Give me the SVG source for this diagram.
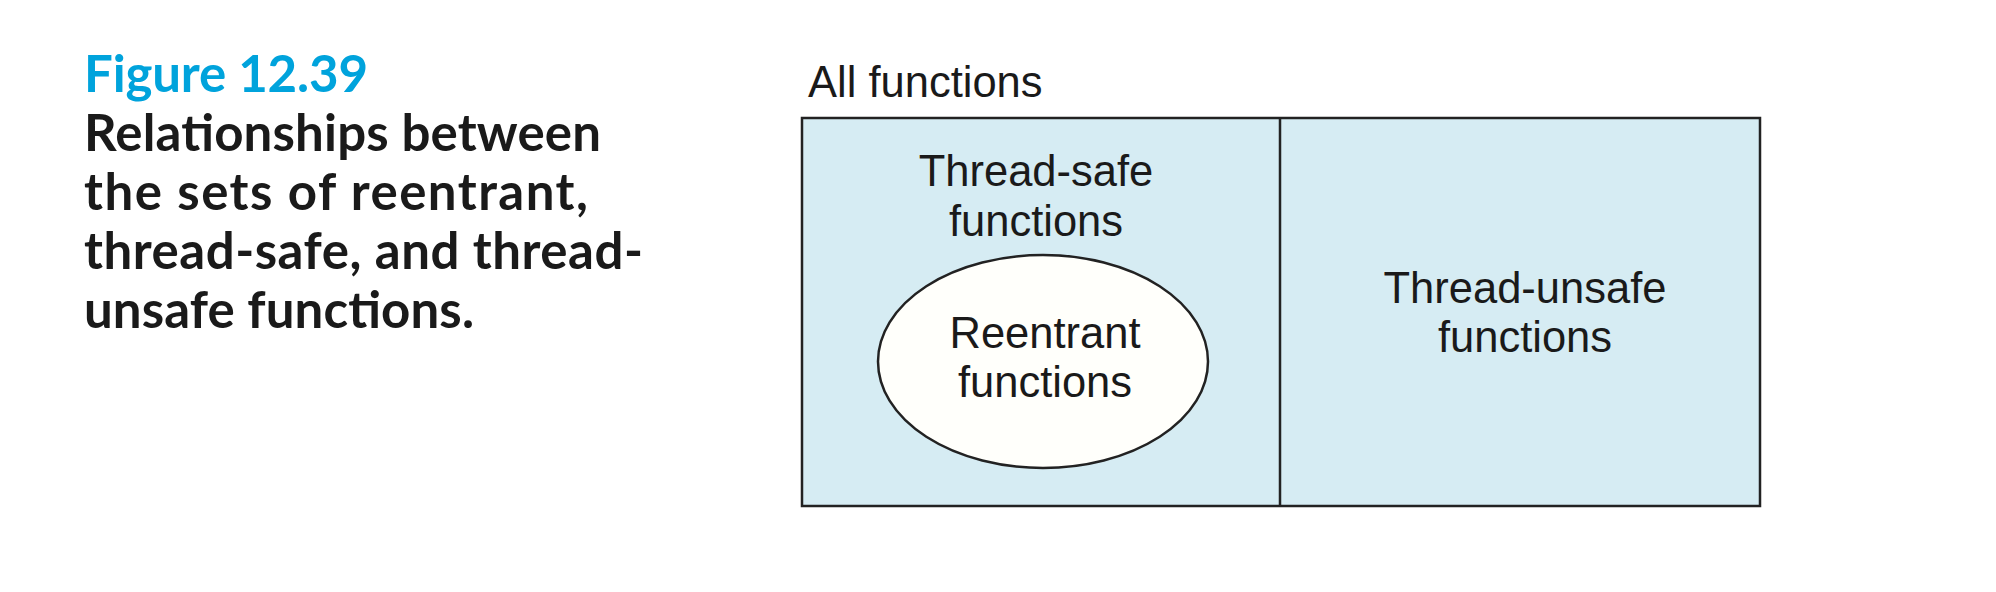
<svg xmlns="http://www.w3.org/2000/svg" width="1996" height="592" viewBox="0 0 1996 592">
<style>
.cap{font-family:Lato,"Open Sans","Noto Sans",sans-serif;font-weight:bold;font-size:51px;fill:#1a1a1a}
.fig{fill:#00a3dc}
.lbl{font-family:"Liberation Sans",Arial,sans-serif;font-size:43.5px;fill:#1a1a1a;text-anchor:middle}
.box{fill:#d6ecf3;stroke:#222;stroke-width:2.5}
</style>
<rect width="1996" height="592" fill="#fff"/>
<g id="caption">
<text class="cap fig" x="84" y="92" textLength="284">Figure 12.39</text>
<text class="cap" x="84" y="151" textLength="517">Relationships between</text>
<text class="cap" x="84" y="210" textLength="504">the sets of reentrant,</text>
<text class="cap" x="84" y="269" textLength="559">thread-safe, and thread-</text>
<text class="cap" x="84" y="328" textLength="390">unsafe functions.</text>
</g>
<g id="all-functions">
<text x="808" y="97" style="font-family:'Liberation Sans',Arial,sans-serif;font-size:43.5px;fill:#1a1a1a">All functions</text>
<rect class="box" x="802" y="118" width="958" height="388"/>
</g>
<g id="thread-safe">
<text class="lbl" x="1036" y="186">Thread-safe</text>
<text class="lbl" x="1036" y="236">functions</text>
</g>
<g id="thread-unsafe">
<text class="lbl" x="1525" y="303">Thread-unsafe</text>
<text class="lbl" x="1525" y="352">functions</text>
</g>
<g id="reentrant">
<ellipse cx="1043" cy="361.5" rx="165" ry="106.5" fill="#fffffb" stroke="#222" stroke-width="2.5"/>
<text class="lbl" x="1045" y="348">Reentrant</text>
<text class="lbl" x="1045" y="397">functions</text>
</g>
<g id="connectors">
<line x1="1280" y1="118" x2="1280" y2="506" stroke="#222" stroke-width="2.5"/>
</g>
</svg>
